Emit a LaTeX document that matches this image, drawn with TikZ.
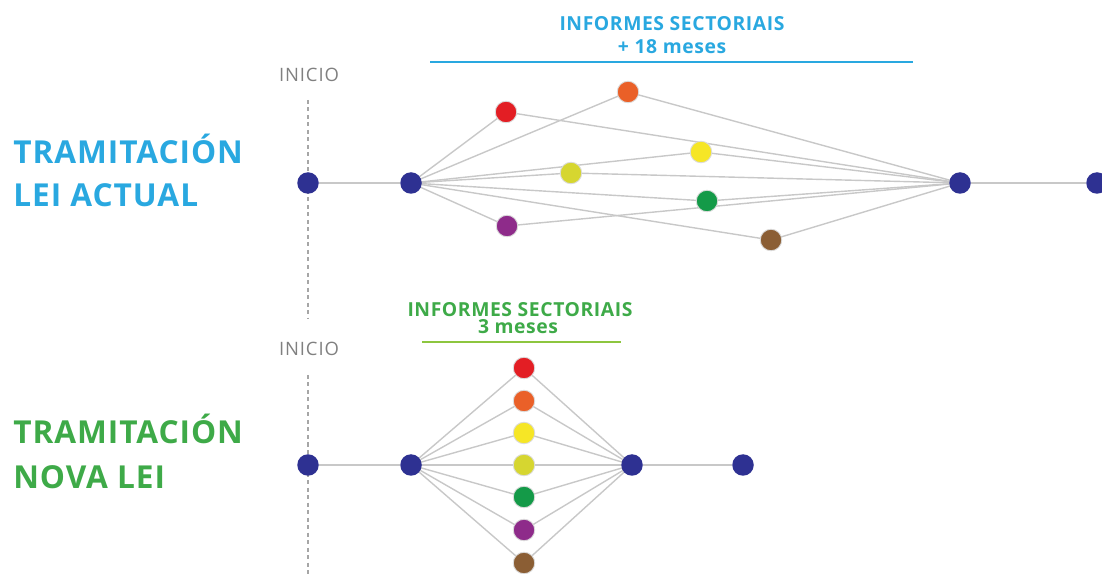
\documentclass[tikz,border=0pt]{standalone}
\usepackage{fontspec}
\setmainfont{Open Sans}
\newfontfamily\letraetiqueta[LetterSpace=3]{Open Sans}
\newfontfamily\letratitulo[LetterSpace=3]{Open Sans}
\newfontfamily\letrainicio[LetterSpace=5]{Open Sans}
\usetikzlibrary{backgrounds}
\definecolor{navy}{RGB}{46,49,146}
\definecolor{azul}{RGB}{41,168,224}
\definecolor{verde}{RGB}{62,170,72}
\definecolor{verdeclaro}{RGB}{141,198,63}
\definecolor{gris}{RGB}{200,200,200}
\definecolor{grisinicio}{RGB}{128,128,128}
\definecolor{rojo}{RGB}{227,30,36}
\definecolor{laranxa}{RGB}{234,96,40}
\definecolor{amarelo}{RGB}{246,230,38}
\definecolor{lima}{RGB}{214,214,48}
\definecolor{verdeforte}{RGB}{20,154,72}
\definecolor{morado}{RGB}{142,43,138}
\definecolor{marron}{RGB}{139,94,52}
\begin{document}
\begin{tikzpicture}[x=0.2mm,y=-0.2mm,
	hito/.style={circle,fill=navy,minimum size=4.3mm,inner sep=0},
	informe/.style={circle,fill=#1,draw=black!14,line width=0.5pt,minimum size=4.3mm,inner sep=0},
	enlace/.style={draw=gris,line width=0.8pt},
	discontinua/.style={draw=grisinicio!70,line width=0.6pt,dash pattern=on 0.8mm off 0.7mm},
	inicio/.style={text=grisinicio,font=\letrainicio\fontsize{10.5}{12}\selectfont,anchor=base,inner sep=0},
	etiqueta/.style={font=\letraetiqueta\bfseries\fontsize{18}{20}\selectfont,anchor=base west,inner sep=0},
	titulo/.style={font=\letratitulo\bfseries\fontsize{11}{13}\selectfont,anchor=base,inner sep=0}]
\useasboundingbox (0,0) rectangle (1102,574);

% lei actual
\node[etiqueta,text=azul] (t1a) at (13,164) {TRAMITACIÓN};
\node[etiqueta,text=azul] (t1b) at (13,207) {LEI ACTUAL};
\node[titulo,text=azul] (s1a) at (672,31) {INFORMES SECTORIAIS};
\node[titulo,text=azul] (s1b) at (672,54) {+ 18 meses};
\coordinate (b1a) at (430,62);
\coordinate (b1b) at (913,62);
\draw[azul,line width=1.1pt] (b1a) -- (b1b);
\node[inicio] (ini1) at (309,82) {INICIO};
\coordinate (d1a) at (308,100);
\coordinate (d1b) at (308,318);
\draw[discontinua] (d1a) -- (d1b);
\node[hito] (i1) at (308,183) {};
\node[hito] (a1) at (411,183) {};
\node[hito] (f1) at (960,183) {};
\node[hito] (g1) at (1097,183) {};
\foreach \nome/\x/\y/\cor in {r1/506/112/rojo,o1/628/92/laranxa,m1/701/152/amarelo,
	l1/571/173/lima,v1/707/201/verdeforte,p1/507/226/morado,c1/771/240/marron}
	\node[informe=\cor] (\nome) at (\x,\y) {};

% nova lei
\node[etiqueta,text=verde] (t2a) at (13,444) {TRAMITACIÓN};
\node[etiqueta,text=verde] (t2b) at (13,489) {NOVA LEI};
\node[titulo,text=verde] (s2a) at (520,317) {INFORMES SECTORIAIS};
\node[titulo,text=verde] (s2b) at (518,334) {3 meses};
\coordinate (b2a) at (422,342);
\coordinate (b2b) at (621,342);
\draw[verdeclaro,line width=0.9pt] (b2a) -- (b2b);
\node[inicio] (ini2) at (309,356) {INICIO};
\coordinate (d2a) at (308,375);
\coordinate (d2b) at (308,574);
\draw[discontinua] (d2a) -- (d2b);
\node[hito] (i2) at (308,465) {};
\node[hito] (a2) at (411,465) {};
\node[hito] (f2) at (632,465) {};
\node[hito] (g2) at (743,465) {};
\foreach \nome/\y/\cor in {r2/368/rojo,o2/401/laranxa,m2/433/amarelo,
	l2/465/lima,v2/497/verdeforte,p2/530/morado,c2/563/marron}
	\node[informe=\cor] (\nome) at (524,\y) {};

\begin{scope}[on background layer]
\draw[enlace] (i1) -- (a1);
\draw[enlace] (f1) -- (g1);
\foreach \n in {r1,o1,m1,l1,v1,p1,c1}
	\draw[enlace] (a1.center) -- (\n.center) -- (f1.center);
\draw[enlace] (i2) -- (a2);
\draw[enlace] (f2) -- (g2);
\foreach \n in {r2,o2,m2,l2,v2,p2,c2}
	\draw[enlace] (a2.center) -- (\n.center) -- (f2.center);
\end{scope}
\end{tikzpicture}
\end{document}
